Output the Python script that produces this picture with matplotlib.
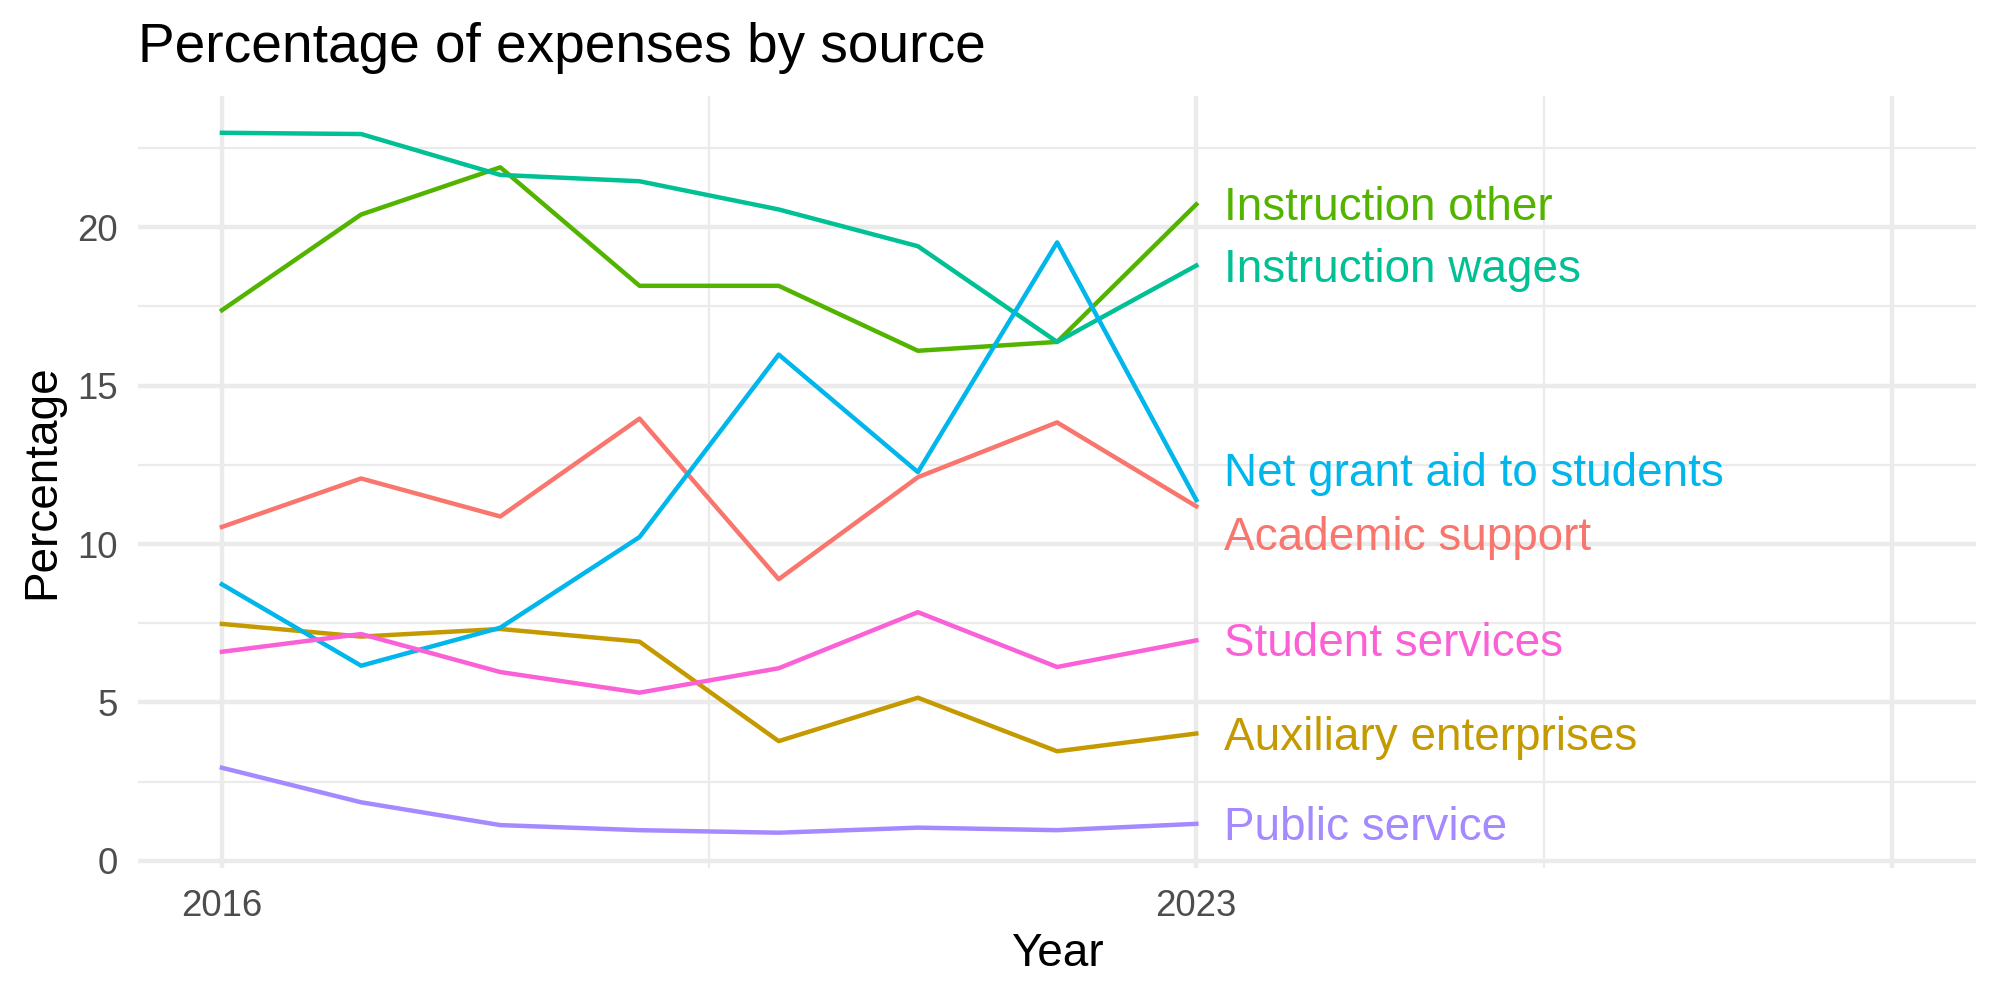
import matplotlib
matplotlib.use("Agg")
import matplotlib.pyplot as plt
from matplotlib.ticker import FixedLocator

plt.rcParams['font.family'] = ['Liberation Sans', 'DejaVu Sans']

years = [2016, 2017, 2018, 2019, 2020, 2021, 2022, 2023]

academic_support = [10.54, 12.07, 10.87, 13.96, 8.89, 12.11, 13.84, 11.19]
auxiliary_enterprises = [7.48, 7.08, 7.32, 6.92, 3.78, 5.15, 3.46, 4.02]
instruction_other = [17.38, 20.40, 21.89, 18.15, 18.15, 16.10, 16.38, 20.72]
instruction_wages = [22.98, 22.94, 21.65, 21.45, 20.56, 19.40, 16.38, 18.79]
net_grant_aid = [8.73, 6.16, 7.36, 10.22, 15.98, 12.27, 19.52, 11.39]
public_service = [2.94, 1.85, 1.13, 0.97, 0.89, 1.05, 0.97, 1.17]
student_services = [6.60, 7.16, 5.96, 5.31, 6.08, 7.85, 6.12, 6.96]

series_names = ["Academic support", "Auxiliary enterprises", "Instruction other",
                "Instruction wages", "Net grant aid to students", "Public service",
                "Student services"]
series_values = [academic_support, auxiliary_enterprises, instruction_other,
                 instruction_wages, net_grant_aid, public_service, student_services]
colors = ["#F8766D", "#C49A00", "#53B400", "#00C094", "#00B6EB", "#A58AFF", "#FB61D7"]

# label vertical nudges (repel-like offsets from line end)
label_nudge = [-0.99, -0.14, -0.10, -0.14, 0.82, -0.14, -0.10]

x_tick_values = [2016, 2023, 2028]
x_tick_labels = ["2016", "2023", ""]
y_tick_values = [0, 5, 10, 15, 20]

fig = plt.figure(figsize=(2000 / 300, 1000 / 300), dpi=300)
ax = fig.add_axes([0.0692, 0.1318, 0.9879 - 0.0692, 0.9043 - 0.1318])

for name, vals, col, nud in zip(series_names, series_values, colors, label_nudge):
    ax.plot(years, vals, color=col, lw=1.07, solid_joinstyle='round', zorder=3)
    ax.text(years[-1] + 0.2, vals[-1] + nud, name, color=col, fontsize=11,
            ha='left', va='center', zorder=4)

ax.set_xlim(2015.4, 2028.6)
ax.set_ylim(-0.23, 24.15)

ax.xaxis.set_major_locator(FixedLocator(x_tick_values))
ax.set_xticklabels(x_tick_labels)
ax.xaxis.set_minor_locator(FixedLocator([2019.5, 2025.5]))
ax.yaxis.set_major_locator(FixedLocator(y_tick_values))
ax.yaxis.set_minor_locator(FixedLocator([2.5, 7.5, 12.5, 17.5, 22.5]))

ax.grid(which='major', color='#EBEBEB', lw=1.07)
ax.grid(which='minor', color='#EBEBEB', lw=0.53)
ax.set_axisbelow(True)
for s in ax.spines.values():
    s.set_visible(False)
ax.tick_params(which='both', length=0, pad=5, labelsize=8.8, labelcolor='#4D4D4D')

fig.text(0.0692, 0.9383, "Percentage of expenses by source", fontsize=13.2,
         ha='left', va='baseline', color='black')
fig.text((0.0692 + 0.9879) / 2, 0.046, "Year", fontsize=11, ha='center', va='center')
fig.text(0.021, (0.1318 + 0.9043) / 2, "Percentage", fontsize=11, ha='center',
         va='center', rotation=90)

fig.savefig("out.png", dpi=300, facecolor='white')
